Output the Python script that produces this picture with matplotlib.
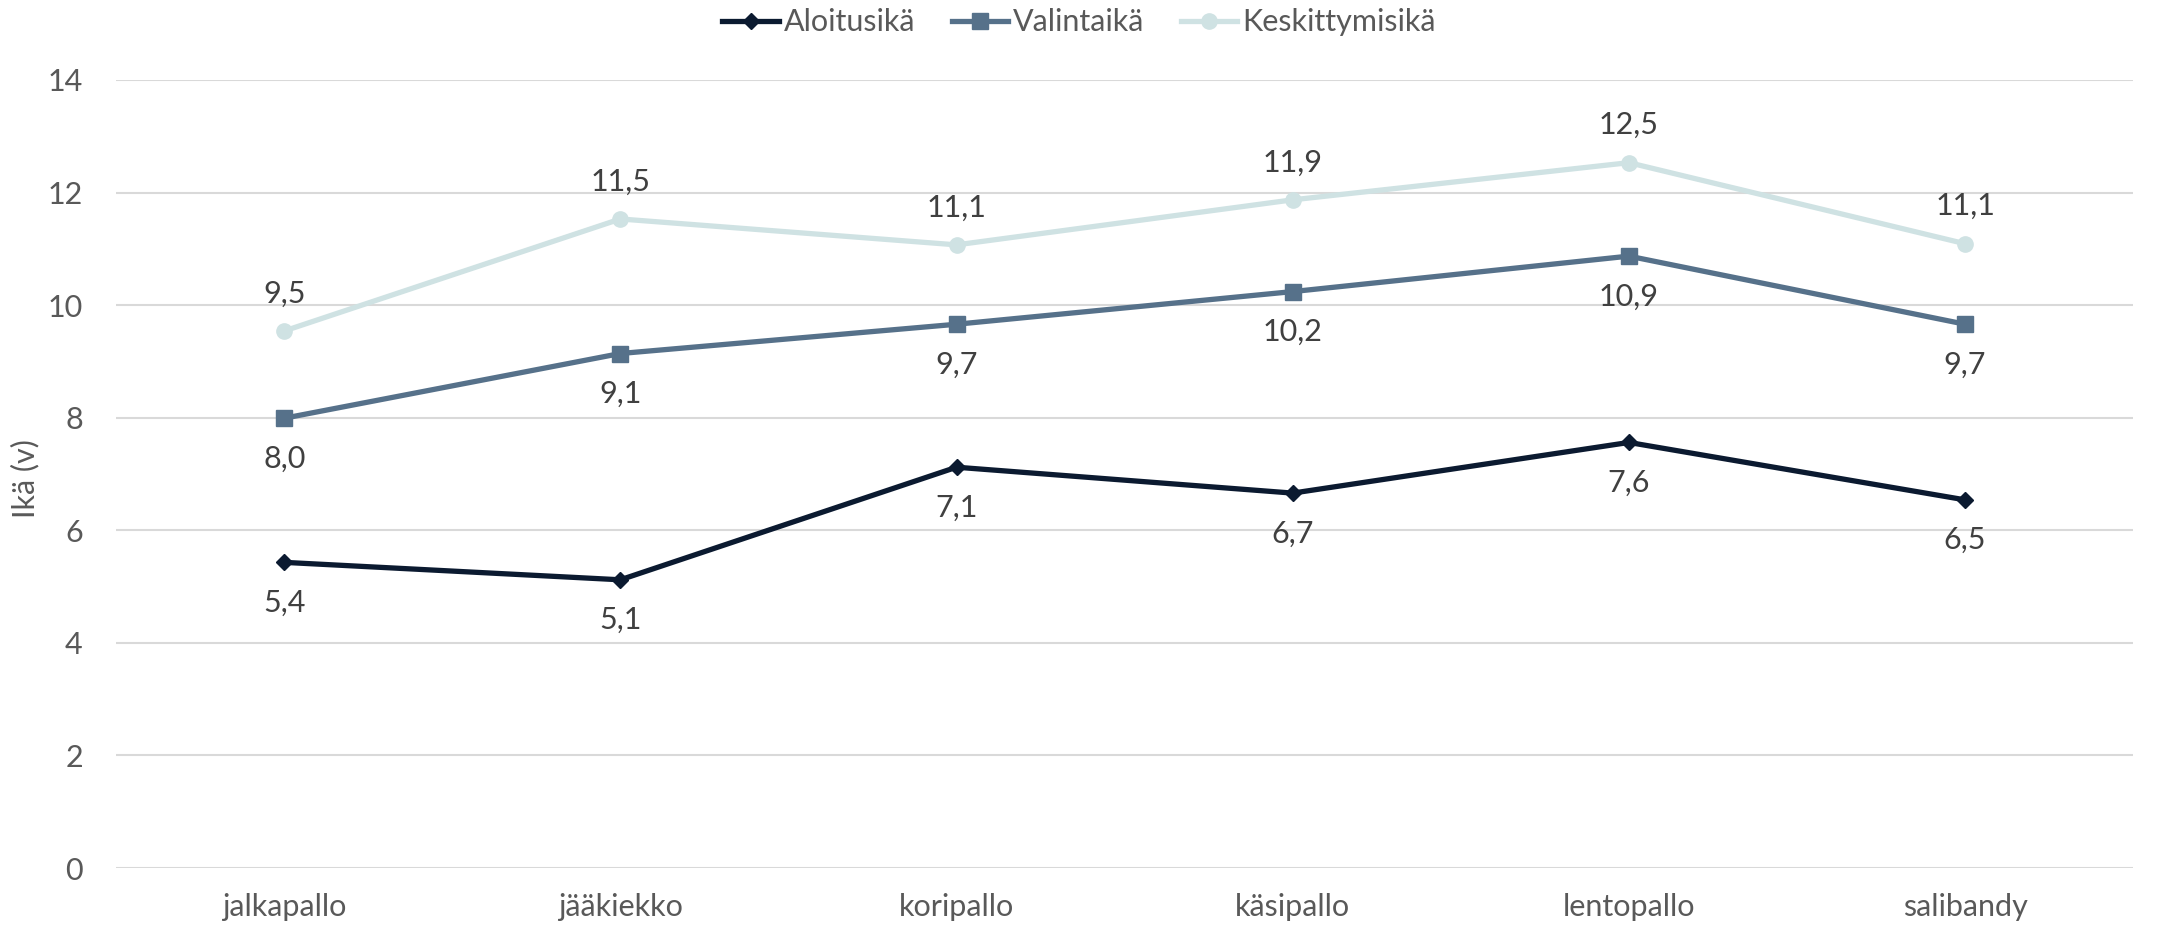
import matplotlib
matplotlib.use("Agg")
import matplotlib.pyplot as plt
from matplotlib.lines import Line2D

# Sports (categories)
sports = ["jalkapallo", "jääkiekko", "koripallo", "käsipallo", "lentopallo", "salibandy"]

# Mean ages per sport
aloitusika = [5.43, 5.12, 7.12, 6.66, 7.56, 6.54]
valintaika = [7.99, 9.14, 9.66, 10.24, 10.87, 9.66]
keskittymisika = [9.54, 11.53, 11.07, 11.87, 12.53, 11.09]

series_names = ["Aloitusikä", "Valintaikä", "Keskittymisikä"]
yticks = [0, 2, 4, 6, 8, 10, 12, 14]

plt.rcParams["font.family"] = ["Lato", "DejaVu Sans"]
FS = 22

fig = plt.figure(figsize=(21.58, 9.25), dpi=100)
ax = fig.add_axes([0.0538, 0.0616, 0.9347, 0.852])

x = list(range(len(sports)))
styles = [
    dict(color="#0b1a30", marker="D", ms=8.5, label_pos="below"),
    dict(color="#56718a", marker="s", ms=11, label_pos="below"),
    dict(color="#cfe2e3", marker="o", ms=11, label_pos="above"),
]

for name, vals, st in zip(series_names, [aloitusika, valintaika, keskittymisika], styles):
    ax.plot(x, vals, color=st["color"], lw=3.8, marker=st["marker"], ms=st["ms"],
            mec=st["color"], mfc=st["color"], label=name, zorder=3,
            solid_joinstyle="round")
    for xi, v in zip(x, vals):
        txt = f"{v:.1f}".replace(".", ",")
        off = 27 if st["label_pos"] == "above" else -29
        ax.annotate(txt, (xi, v), xytext=(0, off), textcoords="offset points",
                    ha="center", va="center", fontsize=FS, color="#404040")

ax.set_xlim(-0.5, len(sports) - 0.5)
ax.set_ylim(0, 14)
ax.set_yticks(yticks)
ax.set_yticklabels([str(t) for t in yticks])
ax.set_xticks(x)
ax.set_xticklabels(sports)
ax.grid(axis="y", color="#d9d9d9", lw=1.5)
ax.set_axisbelow(True)
for s in ax.spines.values():
    s.set_visible(False)
ax.tick_params(axis="both", length=0, labelsize=FS, labelcolor="#595959")
ax.tick_params(axis="y", pad=24)
ax.tick_params(axis="x", pad=18)

fig.text(25 / 2158, 0.483, "Ikä (v)", rotation=90, ha="center", va="center",
         fontsize=FS, color="#595959")

handles = [Line2D([0], [0], color=st["color"], lw=3.8, marker=st["marker"],
                  ms=st["ms"], mec=st["color"], mfc=st["color"]) for st in styles]
fig.legend(handles, series_names, loc="center", bbox_to_anchor=(0.5, 0.976),
           ncol=3, frameon=False, fontsize=FS, labelcolor="#595959",
           handlelength=1.85, handletextpad=0.15, columnspacing=1.2)

fig.savefig("out.png", dpi=100)
